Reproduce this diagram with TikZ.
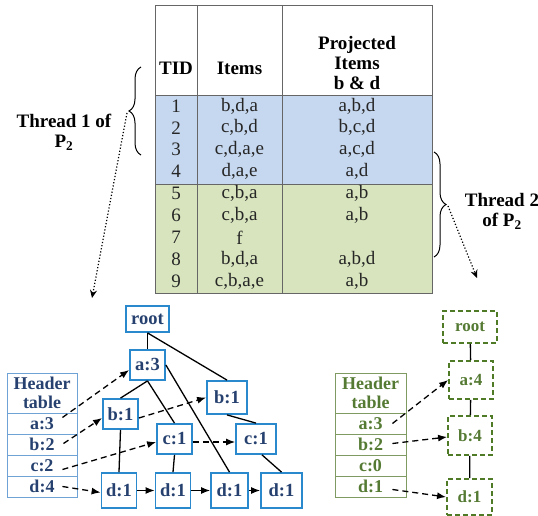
\documentclass[tikz,border=0pt]{standalone}
\usepackage{fontspec}
\setmainfont{Liberation Serif}
\usetikzlibrary{arrows.meta,decorations.pathreplacing}

\definecolor{rowblue}{HTML}{C6D8EF}
\definecolor{rowgreen}{HTML}{D7E4BD}
\definecolor{treeblue}{HTML}{2A88CC}
\definecolor{txtblue}{HTML}{26416F}
\definecolor{hdrblue}{HTML}{6FA3D6}
\definecolor{treegreen}{HTML}{4F7B26}
\definecolor{txtgreen}{HTML}{557A33}
\definecolor{hdrgreen}{HTML}{7F9B63}

\tikzset{
  bnode/.style={draw=treeblue, line width=1.8pt, fill=white, text=txtblue,
    font=\fontsize{18.5}{20}\selectfont\bfseries, minimum width=35pt,
    minimum height=30pt, inner sep=2pt},
  gnode/.style={draw=treegreen, line width=1.8pt, dash pattern=on 5pt off 3pt,
    text=txtgreen, font=\fontsize{17}{19}\selectfont\bfseries,
    minimum width=44pt, minimum height=38pt, inner sep=2pt},
  hcell/.style={draw, line width=0.9pt, minimum width=70pt, minimum height=21pt,
    inner sep=0pt, font=\fontsize{18}{19}\selectfont\bfseries},
  link/.style={line width=1.3pt},
  ptr/.style={line width=1.3pt, dash pattern=on 6pt off 4pt,
    -{Latex[length=9pt,width=7pt]}},
  sptr/.style={line width=1.3pt, -{Latex[length=9pt,width=7pt]}},
  tptr/.style={dotted, line width=1.2pt, -{Stealth[length=8pt,width=7pt]}},
  tline/.style={draw=black!60, line width=0.8pt},
  tcell/.style={font=\fontsize{19}{21}\selectfont, text=black!85},
  thead/.style={font=\fontsize{19}{20}\selectfont\bfseries, align=center},
  bracey/.style={decorate, decoration={brace, amplitude=12pt}, line width=1pt}
}

\begin{document}
\begin{tikzpicture}[x=1pt, y=-1pt]
\useasboundingbox (0,0) rectangle (538,516);

% projected database table
\fill[rowblue] (155,95) rectangle (432,184);
\fill[rowgreen] (155,184) rectangle (432,293);
\draw[tline] (155,5) rectangle (432,293);
\draw[tline] (197,5) -- (197,293) (282,5) -- (282,293)
  (155,95) -- (432,95) (155,184) -- (432,184);
\node[thead] (hTID) at (176,68) {TID};
\node[thead] (hItems) at (239.5,68) {Items};
\node[thead] (hProj) at (357,63) {Projected\\Items\\b \& d};
\foreach \tid/\items/\proj [count=\i] in {1/{b,d,a}/{a,b,d}, 2/{c,b,d}/{b,c,d},
    3/{c,d,a,e}/{a,c,d}, 4/{d,a,e}/{a,d}, 5/{c,b,a}/{a,b}, 6/{c,b,a}/{a,b},
    7/{f}/{}, 8/{b,d,a}/{a,b,d}, 9/{c,b,a,e}/{a,b}}{
  \node[tcell] (tid\i) at (176,{95+21.9*(\i-0.5)}) {\tid};
  \node[tcell] (items\i) at (239.5,{95+21.9*(\i-0.5)}) {\items};
  \node[tcell] (proj\i) at (357,{95+21.9*(\i-0.5)}) {\proj};
}

% threads
\draw[bracey] (141,155) -- (141,67);
\draw[bracey] (434,152) -- (434,257);
\node[thead] (thr1) at (64,132) {Thread 1 of\\P\textsubscript{2}};
\node[thead] (thr2) at (502,211) {Thread 2\\of P\textsubscript{2}};
\coordinate (t1src) at (127,113);
\coordinate (t1end) at (92,298);
\coordinate (t2src) at (448,206);
\coordinate (t2end) at (477,278);
\draw[tptr] (t1src) -- (t1end);
\draw[tptr] (t2src) -- (t2end);

% FP-tree of thread 1
\node[bnode, minimum width=43pt, minimum height=26pt] (root1) at (147.5,319) {root};
\node[bnode] (a3) at (147.5,365) {a:3};
\node[bnode] (b1l) at (120.5,414) {b:1};
\node[bnode, minimum width=40pt, minimum height=33pt] (b1r) at (227,397.5) {b:1};
\node[bnode] (c1l) at (174.5,439) {c:1};
\node[bnode, minimum width=40pt] (c1r) at (256,439) {c:1};
\node[bnode, minimum height=35pt] (d1a) at (119,490.5) {d:1};
\node[bnode, minimum height=35pt] (d1b) at (173,490.5) {d:1};
\node[bnode, minimum height=35pt, minimum width=37pt] (d1c) at (229.5,490.5) {d:1};
\node[bnode, minimum height=35pt, minimum width=41pt] (d1d) at (281.5,490.5) {d:1};
\draw[link] (root1.south) -- (a3.north);
\draw[link] (root1.south) -- (b1r.north);
\draw[link] (a3.south) -- (b1l.north);
\draw[link] (a3.south) -- (c1l.north);
\draw[link] (a3.east) -- (d1c.north);
\draw[link] (b1l.south) -- (d1a.north);
\draw[link] (c1l.south) -- (d1b.north);
\draw[link] (b1r.south) -- (c1r.north);
\draw[link] ([xshift=6pt]c1r.south) -- (d1d.north);
\draw[sptr] (d1a) -- (d1b);
\draw[sptr] (d1b) -- (d1c);
\draw[sptr] (d1c) -- (d1d);

\begin{scope}[every node/.style={hcell, draw=hdrblue, text=txtblue}]
\node[minimum height=40pt, align=center] (hb0) at (42,393) {Header\\table};
\node (hba) at (42,423.5) {a:3};
\node (hbb) at (42,444.5) {b:2};
\node (hbc) at (42,465.5) {c:2};
\node (hbd) at (42,486.5) {d:4};
\end{scope}
\draw[ptr] ([xshift=-15pt,yshift=6pt]hba.east) -- ([yshift=-5pt]a3.west);
\draw[ptr] ([xshift=-14pt,yshift=1pt]hbb.east) -- ([yshift=-4pt]b1l.west);
\draw[ptr] ([xshift=-15pt,yshift=-4pt]hbc.east) -- ([yshift=-3pt]c1l.west);
\draw[ptr] ([xshift=-15pt]hbd.east) -- ([yshift=-2pt]d1a.west);
\draw[ptr] ([yshift=-4pt]b1l.east) -- (b1r.west);
\draw[ptr] ([yshift=-3pt]c1l.east) -- ([yshift=-3pt]c1r.west);

% FP-tree of thread 2
\node[gnode, minimum width=54pt, minimum height=32pt] (root2) at (470,327) {root};
\node[gnode] (a4) at (471,380) {a:4};
\node[gnode, minimum height=39pt] (b4) at (470,435.5) {b:4};
\node[gnode, minimum width=45pt, minimum height=36pt] (d1g) at (469.5,497) {d:1};
\draw[link] (root2) -- (a4);
\draw[link] (a4) -- (b4);
\draw[link] (b4) -- (d1g);

\begin{scope}[every node/.style={hcell, draw=hdrgreen, text=txtgreen, minimum width=71pt}]
\node[minimum height=40pt, align=center] (hg0) at (370.5,393) {Header\\table};
\node (hga) at (370.5,423.5) {a:3};
\node (hgb) at (370.5,444.5) {b:2};
\node (hgc) at (370.5,465.5) {c:0};
\node (hgd) at (370.5,486.5) {d:1};
\end{scope}
\draw[ptr] ([xshift=-14pt]hga.east) -- (a4.west);
\draw[ptr] ([xshift=-14pt,yshift=1pt]hgb.east) -- ([yshift=-1.5pt]b4.west);
\draw[ptr] ([xshift=-14pt,yshift=-3pt]hgd.east) -- (d1g.west);
\end{tikzpicture}
\end{document}
